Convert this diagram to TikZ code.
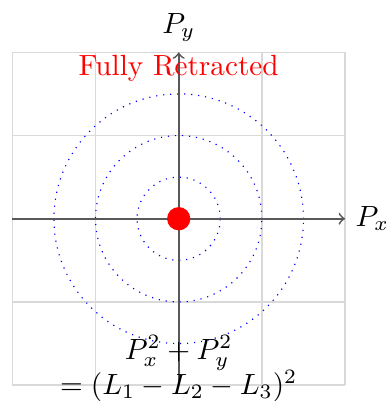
\documentclass[tikz,border=0pt]{standalone}
\begin{document}
\begin{tikzpicture}[
  gridline/.style={gray!30, line width=0.5pt},
  axisline/.style={->, black!65, line width=0.6pt},
  reachcircle/.style={blue, dotted},
]
\useasboundingbox (-2.148,-2.191) rectangle (2.492,2.629);
\draw[gridline] (-2,-2) grid (2,2);
\draw[reachcircle] (0,0) circle (0.5);
\draw[reachcircle] (0,0) circle (1);
\draw[reachcircle] (0,0) circle (1.5);
\coordinate (xl) at (-2,0);
\coordinate (xr) at (2,0);
\coordinate (yb) at (0,-2);
\coordinate (yt) at (0,2);
\draw[axisline] (xl) -- (xr) node[right, black] (px) {$P_x$};
\draw[axisline] (yb) -- (yt) node[above, black] (py) {$P_y$};
\fill[red] (0,0) circle (0.14);
\node[red] (fr) at (0,1.81) {Fully Retracted};
\node[align=center] (eq) at (0,-1.8) {$P_x^2 + P_y^2$\\$= (L_1 - L_2 - L_3)^2$};
\end{tikzpicture}
\end{document}
